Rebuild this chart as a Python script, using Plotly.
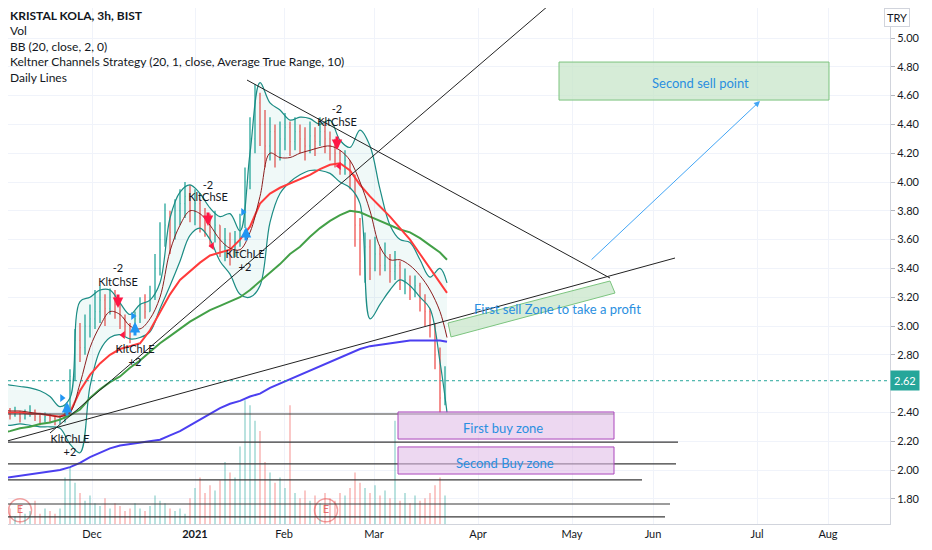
import plotly.graph_objects as go

# ---- candles (3h bars, position on the bar axis) ----
bar_x = list(range(0, 450, 5))
close = [2.40, 2.42, 2.38, 2.40, 2.36, 2.39, 2.41, 2.37, 2.35, 2.37,
         2.36, 2.34, 2.35, 2.40, 2.65, 2.90, 2.85, 3.00, 3.05, 3.10,
         3.18, 3.12, 3.20, 3.15, 3.05, 3.00, 2.95, 3.05, 3.15, 3.10,
         3.20, 3.40, 3.60, 3.70, 3.65, 3.80, 3.85, 3.90, 3.80, 3.85,
         3.75, 3.70, 3.65, 3.70, 3.55, 3.60, 3.52, 3.58, 3.70, 4.00,
         4.30, 4.55, 4.40, 4.25, 4.35, 4.20, 4.30, 4.38, 4.28, 4.35,
         4.30, 4.25, 4.32, 4.28, 4.35, 4.30, 4.25, 4.20, 4.12, 4.15,
         4.05, 3.70, 3.45, 3.55, 3.40, 3.50, 3.42, 3.48, 3.38, 3.42,
         3.30, 3.32, 3.25, 3.28, 3.18, 3.10, 3.00, 2.80, 2.50, 2.62]
high = [2.44, 2.45, 2.43, 2.44, 2.41, 2.42, 2.45, 2.42, 2.39, 2.40,
        2.39, 2.38, 2.38, 2.45, 2.70, 2.98, 3.02, 3.08, 3.15, 3.25,
        3.28, 3.22, 3.26, 3.25, 3.18, 3.08, 3.02, 3.10, 3.20, 3.22,
        3.28, 3.50, 3.72, 3.85, 3.80, 3.88, 3.95, 4.00, 3.98, 3.95,
        3.88, 3.82, 3.78, 3.80, 3.70, 3.68, 3.65, 3.66, 3.78, 4.10,
        4.45, 4.68, 4.62, 4.50, 4.45, 4.40, 4.42, 4.48, 4.42, 4.45,
        4.40, 4.38, 4.42, 4.38, 4.45, 4.42, 4.35, 4.30, 4.22, 4.22,
        4.15, 4.05, 3.75, 3.65, 3.60, 3.62, 3.55, 3.58, 3.50, 3.52,
        3.45, 3.40, 3.35, 3.35, 3.30, 3.22, 3.12, 3.02, 2.85, 2.72]
low = [2.36, 2.38, 2.35, 2.37, 2.33, 2.35, 2.37, 2.34, 2.31, 2.33,
       2.33, 2.31, 2.32, 2.33, 2.40, 2.62, 2.75, 2.80, 2.92, 2.98,
       3.02, 3.00, 3.08, 3.05, 2.98, 2.93, 2.88, 2.95, 3.02, 3.05,
       3.10, 3.18, 3.35, 3.55, 3.50, 3.60, 3.70, 3.75, 3.72, 3.70,
       3.65, 3.62, 3.55, 3.58, 3.48, 3.45, 3.42, 3.48, 3.55, 3.68,
       3.95, 4.20, 4.25, 4.10, 4.15, 4.10, 4.15, 4.22, 4.18, 4.22,
       4.20, 4.15, 4.20, 4.18, 4.25, 4.20, 4.15, 4.10, 4.05, 4.05,
       3.95, 3.55, 3.35, 3.30, 3.32, 3.38, 3.35, 3.38, 3.30, 3.32,
       3.25, 3.22, 3.18, 3.20, 3.10, 3.00, 2.92, 2.70, 2.40, 2.45]
volume = [25, 20, 30, 15, 35, 20, 25, 45, 20, 30,
          25, 20, 30, 90, 110, 80, 60, 45, 55, 40,
          35, 50, 30, 40, 35, 25, 30, 40, 30, 25,
          35, 55, 45, 40, 30, 25, 30, 20, 50, 70,
          90, 60, 75, 65, 85, 120, 100, 90, 150, 240,
          230, 200, 180, 120, 100, 80, 90, 70, 230, 60,
          50, 65, 45, 55, 40, 60, 50, 45, 60, 55,
          70, 100, 80, 70, 60, 75, 55, 65, 50, 200,
          45, 60, 40, 55, 45, 50, 60, 75, 90, 55]

# ---- indicator lines ----
line_x = list(range(0, 450, 10)) + [447]
bb_upper = [2.60, 2.59, 2.58, 2.57, 2.55, 2.51, 2.44, 2.50, 3.17, 3.20,
            3.25, 3.25, 3.16, 3.08, 3.15, 3.18, 3.30, 3.75, 3.93, 3.98,
            3.92, 3.82, 3.76, 3.78, 3.66, 4.20, 4.69, 4.55, 4.50, 4.43,
            4.45, 4.44, 4.40, 4.43, 4.29, 4.24, 4.36, 4.25, 3.95, 3.70,
            3.60, 3.58, 3.46, 3.34, 3.40, 3.30]
bb_lower = [2.32, 2.31, 2.32, 2.31, 2.30, 2.30, 2.29, 2.18, 2.12, 2.58,
            2.83, 2.92, 2.94, 2.91, 2.92, 2.96, 3.12, 3.28, 3.45, 3.63,
            3.68, 3.60, 3.45, 3.36, 3.22, 3.20, 3.28, 3.72, 3.92, 4.00,
            4.05, 4.08, 4.08, 4.06, 4.00, 3.96, 3.85, 3.05, 3.15, 3.25,
            3.32, 3.28, 3.20, 3.12, 2.75, 2.40]
bb_basis = [2.42, 2.41, 2.41, 2.40, 2.39, 2.38, 2.37, 2.40, 2.60, 2.85,
            3.00, 3.10, 3.08, 3.00, 2.98, 3.05, 3.20, 3.52, 3.70, 3.80,
            3.78, 3.70, 3.60, 3.54, 3.53, 3.65, 3.90, 4.20, 4.17, 4.17,
            4.20, 4.22, 4.24, 4.25, 4.22, 4.15, 4.00, 3.80, 3.55, 3.46,
            3.46, 3.42, 3.35, 3.25, 3.10, 2.92]
daily_red = [2.40, 2.40, 2.40, 2.39, 2.39, 2.38, 2.37, 2.40, 2.55, 2.66,
             2.74, 2.80, 2.84, 2.86, 2.88, 2.97, 3.10, 3.22, 3.32, 3.38,
             3.44, 3.49, 3.51, 3.53, 3.60, 3.69, 3.85, 3.92, 3.96, 3.99,
             4.02, 4.05, 4.09, 4.12, 4.13, 4.08, 3.98, 3.90, 3.83, 3.76,
             3.68, 3.60, 3.50, 3.40, 3.30, 3.23]
daily_green = [2.26, 2.27, 2.29, 2.30, 2.32, 2.33, 2.35, 2.38, 2.42, 2.50,
               2.56, 2.61, 2.65, 2.71, 2.76, 2.82, 2.88, 2.93, 2.98, 3.03,
               3.07, 3.11, 3.14, 3.17, 3.20, 3.25, 3.31, 3.37, 3.43, 3.50,
               3.55, 3.62, 3.68, 3.73, 3.77, 3.80, 3.79, 3.76, 3.73, 3.70,
               3.67, 3.65, 3.61, 3.56, 3.51, 3.46]
daily_blue = [1.94, 1.95, 1.96, 1.97, 1.98, 1.99, 2.00, 2.02, 2.05, 2.09,
              2.12, 2.15, 2.17, 2.18, 2.19, 2.20, 2.21, 2.24, 2.27, 2.31,
              2.35, 2.39, 2.43, 2.46, 2.48, 2.51, 2.53, 2.57, 2.60, 2.63,
              2.66, 2.69, 2.72, 2.75, 2.78, 2.81, 2.84, 2.86, 2.87, 2.88,
              2.89, 2.90, 2.90, 2.90, 2.90, 2.89]

# ---- axis ticks ----
tick_pos = [92, 195, 284, 374, 478, 572, 653, 757, 828]
tick_text = ["Dec", "<b>2021</b>", "Feb", "Mar", "Apr", "May", "Jun", "Jul", "Aug"]
price_ticks = [1.80, 2.00, 2.20, 2.40, 2.80, 3.00, 3.20, 3.40, 3.60,
               3.80, 4.00, 4.20, 4.40, 4.60, 4.80, 5.00]
last_price = 2.62

# ---- strategy signals ----
long_x = [70, 135, 245]
long_name_y = [2.208, 2.833, 3.493]
long_qty_y = [2.118, 2.743, 3.403]
long_arrow_x = [67, 135, 246]
long_arrow_y = [2.472, 3.028, 3.688]
long_tri_x = [62, 133, 243]
long_tri_y = [2.50, 3.069, 3.792]

short_x = [118, 208, 337]
short_name_y = [3.299, 3.889, 4.41]
short_qty_y = [3.396, 3.972, 4.50]
short_arrow_x = [118, 208, 337]
short_arrow_y = [3.125, 3.694, 4.222]
short_tri_x = [123, 212, 339]
short_tri_y = [2.9375, 3.556, 4.111]

earnings_x = [20, 326]
earnings_y = 1.72

# ---- drawings ----
hlines_y = [2.389, 2.194, 2.042, 1.931, 1.764, 1.674]
hlines_end = [614, 678, 676, 642, 670, 665]
trend_lines = [  # x0, y0, x1, y1
    (0, 2.1875, 675, 3.472),
    (50, 2.257, 555, 5.264),
    (247, 4.708, 610, 3.333),
]
sell_box = (559, 4.569, 829, 4.833)
buy_box1 = (398, 2.215, 614, 2.403)
buy_box2 = (398, 1.972, 614, 2.160)
sell_zone = [(448, 3.021), (610, 3.3125), (615, 3.229), (451, 2.924)]

UP = "#26a69a"
DOWN = "#ef5350"
TEXT = "#131722"
BLUE_TXT = "#2a8fe0"
FONT = "Lato, Open Sans, sans-serif"

# the page body keeps an 8px margin, so the figure sits at (8, 8) in the window
W, H = 916, 534
PLOT_W, PLOT_H = 882, 516

opens = [close[0]] + close[:-1]
vol_colors = ["rgba(38,166,154,0.4)" if c >= o else "rgba(239,83,80,0.4)"
              for o, c in zip(opens, close)]

fig = go.Figure()

fig.add_trace(go.Bar(x=bar_x, y=volume, yaxis="y2", width=1.6,
                     marker=dict(color=vol_colors, line=dict(width=0))))

# bollinger band with fill
fig.add_trace(go.Scatter(x=line_x, y=bb_upper, mode="lines",
                         line=dict(color="#1b8c84", width=1.2, shape="spline")))
fig.add_trace(go.Scatter(x=line_x, y=bb_lower, mode="lines", fill="tonexty",
                         fillcolor="rgba(38,166,154,0.07)",
                         line=dict(color="#1b8c84", width=1.2, shape="spline")))

fig.add_trace(go.Scatter(x=line_x, y=daily_blue, mode="lines",
                         line=dict(color="#4b3ff0", width=2)))
fig.add_trace(go.Scatter(x=line_x, y=daily_green, mode="lines",
                         line=dict(color="#43a047", width=2)))
fig.add_trace(go.Scatter(x=line_x, y=daily_red, mode="lines",
                         line=dict(color="#ff3b3b", width=2)))

fig.add_trace(go.Ohlc(
    x=bar_x, open=opens, high=high, low=low, close=close, tickwidth=0.15,
    increasing=dict(line=dict(color=UP, width=1.3)),
    decreasing=dict(line=dict(color=DOWN, width=1.3)),
))

fig.add_trace(go.Scatter(x=line_x, y=bb_basis, mode="lines",
                         line=dict(color="#8b1e1e", width=1, shape="spline")))

# small entry triangles
fig.add_trace(go.Scatter(x=long_tri_x, y=long_tri_y, mode="markers",
                         marker=dict(symbol="triangle-right", size=7, color="#2196f3")))
fig.add_trace(go.Scatter(x=short_tri_x, y=short_tri_y, mode="markers",
                         marker=dict(symbol="triangle-left", size=7, color="#ff1744")))

# earnings markers
fig.add_trace(go.Scatter(x=earnings_x, y=[earnings_y] * len(earnings_x),
                         mode="markers+text", text=["E"] * len(earnings_x),
                         textposition="middle center", cliponaxis=False,
                         textfont=dict(color="#e57373", size=11, family=FONT),
                         marker=dict(size=23, color="white",
                                     line=dict(color="#f0a0a0", width=1.5))))

# signal labels
fig.add_trace(go.Scatter(x=long_x + long_x, y=long_name_y + long_qty_y, mode="text",
                         text=["KltChLE"] * 3 + ["+2"] * 3,
                         textfont=dict(color=TEXT, size=11, family=FONT)))
fig.add_trace(go.Scatter(x=short_x + short_x, y=short_name_y + short_qty_y, mode="text",
                         text=["KltChSE"] * 3 + ["-2"] * 3,
                         textfont=dict(color=TEXT, size=11, family=FONT)))

annotations = []
for x, y in zip(long_arrow_x, long_arrow_y):
    annotations.append(dict(x=x, y=y, xref="x", yref="y", text="", showarrow=True,
                            ax=0, ay=15, arrowhead=2, arrowsize=0.7, arrowwidth=3,
                            arrowcolor="#2196f3"))
for x, y in zip(short_arrow_x, short_arrow_y):
    annotations.append(dict(x=x, y=y, xref="x", yref="y", text="", showarrow=True,
                            ax=0, ay=-15, arrowhead=2, arrowsize=0.7, arrowwidth=3,
                            arrowcolor="#ff1744"))

# arrow to second sell point
annotations.append(dict(x=760, y=4.5625, ax=590, ay=3.451, xref="x", yref="y",
                        axref="x", ayref="y", text="", showarrow=True,
                        arrowhead=2, arrowsize=1.2, arrowwidth=1, arrowcolor="#42a5f5"))

zone_labels = [
    ("Second sell point", 700, 4.6875),
    ("First sell Zone to take a profit", 557, 3.118),
    ("First buy zone", 503, 2.292),
    ("Second Buy zone", 505, 2.049),
]
for txt, x, y in zone_labels:
    annotations.append(dict(x=x, y=y, xref="x", yref="y", text=txt, showarrow=False,
                            font=dict(color=BLUE_TXT, size=13, family=FONT)))

legend_lines = [
    ("<b>KRISTAL KOLA, 3h, BIST</b>", 15),
    ("Vol", 31),
    ("BB (20, close, 2, 0)", 46),
    ("Keltner Channels Strategy (20, 1, close, Average True Range, 10)", 62),
    ("Daily Lines", 77),
]
for txt, ypx in legend_lines:
    annotations.append(dict(x=0, y=1 - (ypx - 8) / PLOT_H, xref="paper", yref="paper",
                            text=txt, showarrow=False, xanchor="left", yanchor="middle",
                            font=dict(color=TEXT, size=12, family=FONT)))

annotations.append(dict(x=(910 - 8) / PLOT_W, y=1.0, xref="paper", yref="paper",
                        text="TRY", showarrow=False, yanchor="top",
                        font=dict(color=TEXT, size=11, family=FONT),
                        bordercolor="#d1d4dc", borderwidth=1, borderpad=2,
                        bgcolor="white"))
annotations.append(dict(x=1.0, y=last_price, xref="paper", yref="y",
                        text=f"{last_price:.2f}", showarrow=False, xanchor="left",
                        font=dict(color="white", size=11, family=FONT),
                        bgcolor="#26a69a", borderpad=3))

shapes = []
for y, x1 in zip(hlines_y, hlines_end):
    shapes.append(dict(type="line", x0=0, x1=x1, y0=y, y1=y, xref="x", yref="y",
                       line=dict(color="#3a3a3a", width=1.2)))
for x0, y0, x1, y1 in trend_lines:
    shapes.append(dict(type="line", x0=x0, y0=y0, x1=x1, y1=y1, xref="x", yref="y",
                       line=dict(color="#222222", width=1)))
shapes.append(dict(type="line", x0=0, x1=1, xref="paper", y0=last_price, y1=last_price,
                   yref="y", line=dict(color="#26a69a", width=1, dash="dot")))
shapes.append(dict(type="rect", x0=sell_box[0], y0=sell_box[1], x1=sell_box[2],
                   y1=sell_box[3], xref="x", yref="y",
                   fillcolor="rgba(200,230,201,0.75)", line=dict(color="#7cc47f", width=1)))
for bx in (buy_box1, buy_box2):
    shapes.append(dict(type="rect", x0=bx[0], y0=bx[1], x1=bx[2], y1=bx[3],
                       xref="x", yref="y", fillcolor="rgba(225,190,231,0.6)",
                       line=dict(color="#ab47bc", width=1)))
zone_path = "M " + " L ".join(f"{x},{y}" for x, y in sell_zone) + " Z"
shapes.append(dict(type="path", path=zone_path, xref="x", yref="y",
                   fillcolor="rgba(200,230,201,0.75)", line=dict(color="#7cc47f", width=1)))

fig.update_layout(
    width=W, height=H,
    margin=dict(l=0, r=W - PLOT_W, t=0, b=H - PLOT_H, autoexpand=False),
    paper_bgcolor="white", plot_bgcolor="white",
    showlegend=False, hovermode=False,
    font=dict(family=FONT, color=TEXT, size=11),
    annotations=annotations, shapes=shapes,
    xaxis=dict(range=[8, 890], tickvals=tick_pos, ticktext=tick_text,
               showgrid=True, gridcolor="#f0f3fa", zeroline=False,
               showline=True, linecolor="#d1d4dc", ticks="",
               rangeslider=dict(visible=False), fixedrange=True,
               tickfont=dict(size=11, color=TEXT)),
    yaxis=dict(range=[1.625, 5.2083], side="right", tickvals=price_ticks,
               tickformat=".2f", showgrid=True, gridcolor="#f0f3fa",
               zeroline=False, showline=True, linecolor="#d1d4dc",
               ticks="outside", ticklen=4, tickcolor="#b2b5be",
               tickfont=dict(size=11, color=TEXT)),
    yaxis2=dict(range=[0, 1000], overlaying="y", visible=False),
)

fig.write_html("out.html")
